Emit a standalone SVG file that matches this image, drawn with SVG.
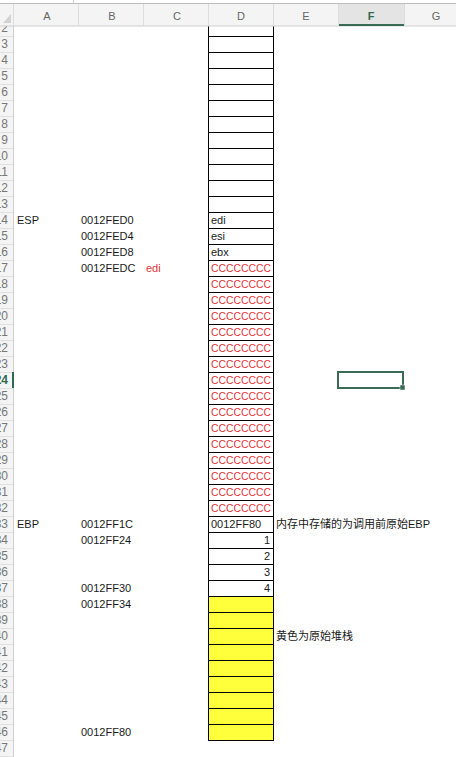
<svg xmlns="http://www.w3.org/2000/svg" width="456" height="757" viewBox="0 0 456 757">
<style>
.t{font-family:"Liberation Sans","Noto Sans CJK SC",Arial,sans-serif;font-size:11px;fill:#1a1a1a}
.r{fill:#e0343c}
.rh{font-family:"Liberation Sans",Arial,sans-serif;font-size:12px;fill:#777;text-anchor:end}
.ch{font-family:"Liberation Sans",Arial,sans-serif;font-size:11px;fill:#666;text-anchor:middle}
.cell{fill:#fff;stroke:#000;stroke-width:1}
.y{fill:#ffff3c;stroke:#000;stroke-width:1}
.sep{stroke:#dcdcdc;stroke-width:1}
</style>
<defs>
<clipPath id="rhclip"><rect x="0" y="26" width="13" height="731"/></clipPath>
</defs>
<rect width="456" height="757" fill="#fff"/>

<!-- row headers -->
<g id="row-headers">
<rect x="0" y="26" width="13" height="731" fill="#f4f4f4"/>
<line x1="13.5" y1="26" x2="13.5" y2="757" stroke="#cfcfcf"/>
<g clip-path="url(#rhclip)">
<g stroke="#e0e0e0">
<line x1="0" y1="36.5" x2="13" y2="36.5"/><line x1="0" y1="52.5" x2="13" y2="52.5"/><line x1="0" y1="68.5" x2="13" y2="68.5"/><line x1="0" y1="84.5" x2="13" y2="84.5"/><line x1="0" y1="100.5" x2="13" y2="100.5"/><line x1="0" y1="116.5" x2="13" y2="116.5"/><line x1="0" y1="132.5" x2="13" y2="132.5"/><line x1="0" y1="148.5" x2="13" y2="148.5"/><line x1="0" y1="164.5" x2="13" y2="164.5"/><line x1="0" y1="180.5" x2="13" y2="180.5"/><line x1="0" y1="196.5" x2="13" y2="196.5"/><line x1="0" y1="212.5" x2="13" y2="212.5"/><line x1="0" y1="228.5" x2="13" y2="228.5"/><line x1="0" y1="244.5" x2="13" y2="244.5"/><line x1="0" y1="260.5" x2="13" y2="260.5"/><line x1="0" y1="276.5" x2="13" y2="276.5"/><line x1="0" y1="292.5" x2="13" y2="292.5"/><line x1="0" y1="308.5" x2="13" y2="308.5"/><line x1="0" y1="324.5" x2="13" y2="324.5"/><line x1="0" y1="340.5" x2="13" y2="340.5"/><line x1="0" y1="356.5" x2="13" y2="356.5"/><line x1="0" y1="372.5" x2="13" y2="372.5"/><line x1="0" y1="388.5" x2="13" y2="388.5"/><line x1="0" y1="404.5" x2="13" y2="404.5"/><line x1="0" y1="420.5" x2="13" y2="420.5"/><line x1="0" y1="436.5" x2="13" y2="436.5"/><line x1="0" y1="452.5" x2="13" y2="452.5"/><line x1="0" y1="468.5" x2="13" y2="468.5"/><line x1="0" y1="484.5" x2="13" y2="484.5"/><line x1="0" y1="500.5" x2="13" y2="500.5"/><line x1="0" y1="516.5" x2="13" y2="516.5"/><line x1="0" y1="532.5" x2="13" y2="532.5"/><line x1="0" y1="548.5" x2="13" y2="548.5"/><line x1="0" y1="564.5" x2="13" y2="564.5"/><line x1="0" y1="580.5" x2="13" y2="580.5"/><line x1="0" y1="596.5" x2="13" y2="596.5"/><line x1="0" y1="612.5" x2="13" y2="612.5"/><line x1="0" y1="628.5" x2="13" y2="628.5"/><line x1="0" y1="644.5" x2="13" y2="644.5"/><line x1="0" y1="660.5" x2="13" y2="660.5"/><line x1="0" y1="676.5" x2="13" y2="676.5"/><line x1="0" y1="692.5" x2="13" y2="692.5"/><line x1="0" y1="708.5" x2="13" y2="708.5"/><line x1="0" y1="724.5" x2="13" y2="724.5"/><line x1="0" y1="740.5" x2="13" y2="740.5"/><line x1="0" y1="756.5" x2="13" y2="756.5"/>
</g>
<text class="rh" x="8" y="32">2</text><text class="rh" x="8" y="48">3</text><text class="rh" x="8" y="64">4</text><text class="rh" x="8" y="80">5</text><text class="rh" x="8" y="96">6</text><text class="rh" x="8" y="112">7</text><text class="rh" x="8" y="128">8</text><text class="rh" x="8" y="144">9</text><text class="rh" x="8" y="160">10</text><text class="rh" x="8" y="176">11</text><text class="rh" x="8" y="192">12</text><text class="rh" x="8" y="208">13</text><text class="rh" x="8" y="224">14</text><text class="rh" x="8" y="240">15</text><text class="rh" x="8" y="256">16</text><text class="rh" x="8" y="272">17</text><text class="rh" x="8" y="288">18</text><text class="rh" x="8" y="304">19</text><text class="rh" x="8" y="320">20</text><text class="rh" x="8" y="336">21</text><text class="rh" x="8" y="352">22</text><text class="rh" x="8" y="368">23</text><text class="rh" x="8" y="384" style="fill:#2f6b4f;font-weight:bold">24</text><text class="rh" x="8" y="400">25</text><text class="rh" x="8" y="416">26</text><text class="rh" x="8" y="432">27</text><text class="rh" x="8" y="448">28</text><text class="rh" x="8" y="464">29</text><text class="rh" x="8" y="480">30</text><text class="rh" x="8" y="496">31</text><text class="rh" x="8" y="512">32</text><text class="rh" x="8" y="528">33</text><text class="rh" x="8" y="544">34</text><text class="rh" x="8" y="560">35</text><text class="rh" x="8" y="576">36</text><text class="rh" x="8" y="592">37</text><text class="rh" x="8" y="608">38</text><text class="rh" x="8" y="624">39</text><text class="rh" x="8" y="640">40</text><text class="rh" x="8" y="656">41</text><text class="rh" x="8" y="672">42</text><text class="rh" x="8" y="688">43</text><text class="rh" x="8" y="704">44</text><text class="rh" x="8" y="720">45</text><text class="rh" x="8" y="736">46</text><text class="rh" x="8" y="752">47</text>
</g>
<rect x="12" y="372" width="2" height="16" fill="#2f6b4f"/>
</g>

<!-- column D cells -->
<g id="stack-cells">
<rect class="cell" x="208.5" y="20.5" width="65" height="16"/>
<rect class="cell" x="208.5" y="36.5" width="65" height="16"/>
<rect class="cell" x="208.5" y="52.5" width="65" height="16"/>
<rect class="cell" x="208.5" y="68.5" width="65" height="16"/>
<rect class="cell" x="208.5" y="84.5" width="65" height="16"/>
<rect class="cell" x="208.5" y="100.5" width="65" height="16"/>
<rect class="cell" x="208.5" y="116.5" width="65" height="16"/>
<rect class="cell" x="208.5" y="132.5" width="65" height="16"/>
<rect class="cell" x="208.5" y="148.5" width="65" height="16"/>
<rect class="cell" x="208.5" y="164.5" width="65" height="16"/>
<rect class="cell" x="208.5" y="180.5" width="65" height="16"/>
<rect class="cell" x="208.5" y="196.5" width="65" height="16"/>
<rect class="cell" x="208.5" y="212.5" width="65" height="16"/>
<rect class="cell" x="208.5" y="228.5" width="65" height="16"/>
<rect class="cell" x="208.5" y="244.5" width="65" height="16"/>
<rect class="cell" x="208.5" y="260.5" width="65" height="16"/>
<rect class="cell" x="208.5" y="276.5" width="65" height="16"/>
<rect class="cell" x="208.5" y="292.5" width="65" height="16"/>
<rect class="cell" x="208.5" y="308.5" width="65" height="16"/>
<rect class="cell" x="208.5" y="324.5" width="65" height="16"/>
<rect class="cell" x="208.5" y="340.5" width="65" height="16"/>
<rect class="cell" x="208.5" y="356.5" width="65" height="16"/>
<rect class="cell" x="208.5" y="372.5" width="65" height="16"/>
<rect class="cell" x="208.5" y="388.5" width="65" height="16"/>
<rect class="cell" x="208.5" y="404.5" width="65" height="16"/>
<rect class="cell" x="208.5" y="420.5" width="65" height="16"/>
<rect class="cell" x="208.5" y="436.5" width="65" height="16"/>
<rect class="cell" x="208.5" y="452.5" width="65" height="16"/>
<rect class="cell" x="208.5" y="468.5" width="65" height="16"/>
<rect class="cell" x="208.5" y="484.5" width="65" height="16"/>
<rect class="cell" x="208.5" y="500.5" width="65" height="16"/>
<rect class="cell" x="208.5" y="516.5" width="65" height="16"/>
<rect class="cell" x="208.5" y="532.5" width="65" height="16"/>
<rect class="cell" x="208.5" y="548.5" width="65" height="16"/>
<rect class="cell" x="208.5" y="564.5" width="65" height="16"/>
<rect class="cell" x="208.5" y="580.5" width="65" height="16"/>
<rect class="y" x="208.5" y="596.5" width="65" height="16"/>
<rect class="y" x="208.5" y="612.5" width="65" height="16"/>
<rect class="y" x="208.5" y="628.5" width="65" height="16"/>
<rect class="y" x="208.5" y="644.5" width="65" height="16"/>
<rect class="y" x="208.5" y="660.5" width="65" height="16"/>
<rect class="y" x="208.5" y="676.5" width="65" height="16"/>
<rect class="y" x="208.5" y="692.5" width="65" height="16"/>
<rect class="y" x="208.5" y="708.5" width="65" height="16"/>
<rect class="y" x="208.5" y="724.5" width="65" height="16"/>
</g>

<g id="stack-values">
<text class="t" x="211" y="224">edi</text>
<text class="t" x="211" y="240">esi</text>
<text class="t" x="211" y="256">ebx</text>
<text class="t r" x="211" y="272" textLength="60" lengthAdjust="spacingAndGlyphs">CCCCCCCC</text>
<text class="t r" x="211" y="288" textLength="60" lengthAdjust="spacingAndGlyphs">CCCCCCCC</text>
<text class="t r" x="211" y="304" textLength="60" lengthAdjust="spacingAndGlyphs">CCCCCCCC</text>
<text class="t r" x="211" y="320" textLength="60" lengthAdjust="spacingAndGlyphs">CCCCCCCC</text>
<text class="t r" x="211" y="336" textLength="60" lengthAdjust="spacingAndGlyphs">CCCCCCCC</text>
<text class="t r" x="211" y="352" textLength="60" lengthAdjust="spacingAndGlyphs">CCCCCCCC</text>
<text class="t r" x="211" y="368" textLength="60" lengthAdjust="spacingAndGlyphs">CCCCCCCC</text>
<text class="t r" x="211" y="384" textLength="60" lengthAdjust="spacingAndGlyphs">CCCCCCCC</text>
<text class="t r" x="211" y="400" textLength="60" lengthAdjust="spacingAndGlyphs">CCCCCCCC</text>
<text class="t r" x="211" y="416" textLength="60" lengthAdjust="spacingAndGlyphs">CCCCCCCC</text>
<text class="t r" x="211" y="432" textLength="60" lengthAdjust="spacingAndGlyphs">CCCCCCCC</text>
<text class="t r" x="211" y="448" textLength="60" lengthAdjust="spacingAndGlyphs">CCCCCCCC</text>
<text class="t r" x="211" y="464" textLength="60" lengthAdjust="spacingAndGlyphs">CCCCCCCC</text>
<text class="t r" x="211" y="480" textLength="60" lengthAdjust="spacingAndGlyphs">CCCCCCCC</text>
<text class="t r" x="211" y="496" textLength="60" lengthAdjust="spacingAndGlyphs">CCCCCCCC</text>
<text class="t r" x="211" y="512" textLength="60" lengthAdjust="spacingAndGlyphs">CCCCCCCC</text>
<text class="t" x="211" y="528">0012FF80</text>
<text class="t" x="270" y="544" text-anchor="end">1</text>
<text class="t" x="270" y="560" text-anchor="end">2</text>
<text class="t" x="270" y="576" text-anchor="end">3</text>
<text class="t" x="270" y="592" text-anchor="end">4</text>
</g>

<g id="labels">
<text class="t" x="17" y="224">ESP</text>
<text class="t" x="17" y="528">EBP</text>
<text class="t" x="81" y="224">0012FED0</text>
<text class="t" x="81" y="240">0012FED4</text>
<text class="t" x="81" y="256">0012FED8</text>
<text class="t" x="81" y="272">0012FEDC</text>
<text class="t r" x="146" y="272">edi</text>
<text class="t" x="81" y="528">0012FF1C</text>
<text class="t" x="81" y="544">0012FF24</text>
<text class="t" x="81" y="592">0012FF30</text>
<text class="t" x="81" y="608">0012FF34</text>
<text class="t" x="81" y="736">0012FF80</text>
<text class="t" x="276" y="528">内存中存储的为调用前原始EBP</text>
<text class="t" x="276" y="640">黄色为原始堆栈</text>
</g>

<g id="selection">
<rect x="338" y="372" width="65" height="16" fill="none" stroke="#3a6b55" stroke-width="2"/>
<rect x="400" y="385" width="5" height="5" fill="#3a6b55" stroke="#fff" stroke-width="0.5"/>
</g>

<!-- column headers -->
<g id="column-headers">
<rect x="0" y="0" width="456" height="3" fill="#fff"/>
<line x1="73.5" y1="0" x2="73.5" y2="3" stroke="#cfcfcf"/>
<rect x="0" y="3" width="456" height="23" fill="#f4f4f4"/>
<line x1="0" y1="3.5" x2="456" y2="3.5" stroke="#bdbdbd"/>
<line x1="0" y1="26" x2="456" y2="26" stroke="#cfcfcf"/>
<rect x="338" y="4" width="66" height="22" fill="#e4e4e4"/>
<rect x="338" y="24" width="66" height="2" fill="#3a6b55"/>
<polygon points="3,23 11,23 11,14" fill="#d2d2d2"/>
<line class="sep" x1="13.5" y1="4" x2="13.5" y2="26"/>
<line class="sep" x1="78.5" y1="4" x2="78.5" y2="26"/>
<line class="sep" x1="143.5" y1="4" x2="143.5" y2="26"/>
<line class="sep" x1="208.5" y1="4" x2="208.5" y2="26"/>
<line class="sep" x1="273.5" y1="4" x2="273.5" y2="26"/>
<line class="sep" x1="338.5" y1="4" x2="338.5" y2="26"/>
<line class="sep" x1="404.5" y1="4" x2="404.5" y2="26"/>
<text class="ch" x="47" y="20">A</text>
<text class="ch" x="112" y="20">B</text>
<text class="ch" x="177" y="20">C</text>
<text class="ch" x="241" y="20">D</text>
<text class="ch" x="306" y="20">E</text>
<text class="ch" x="371" y="20" style="fill:#2f6b4f;font-weight:bold">F</text>
<text class="ch" x="436" y="20">G</text>
</g>
</svg>
